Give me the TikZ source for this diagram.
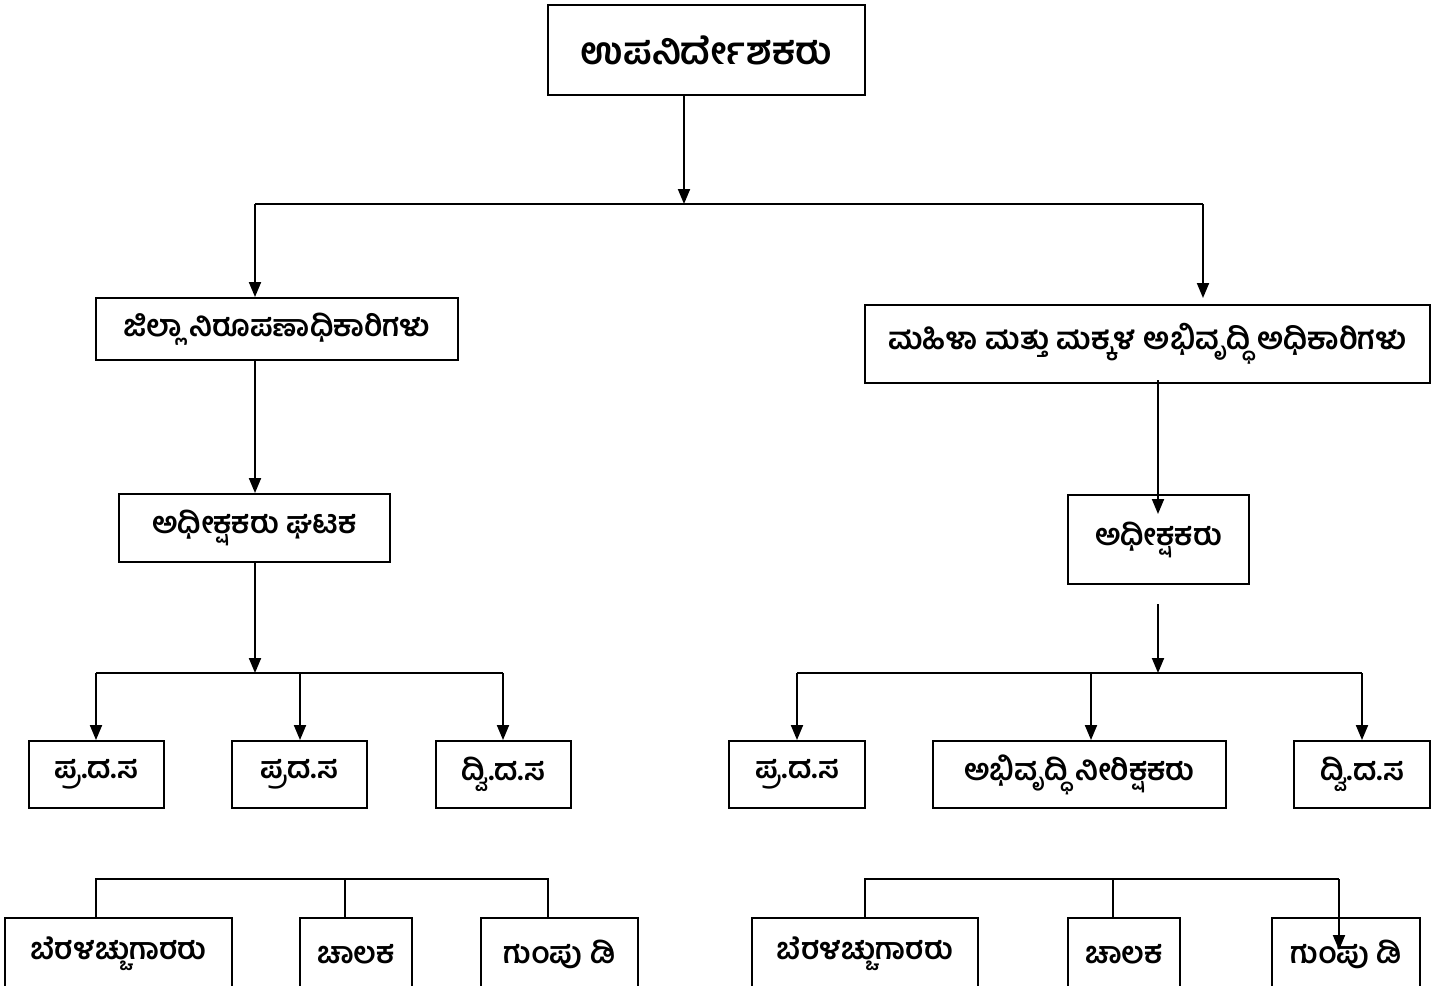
\documentclass[tikz,border=0pt]{standalone}
\usepackage{fontspec}
\newfontfamily\kn[Script=Kannada]{Hind Mysuru}
\usetikzlibrary{arrows.meta}
\tikzset{
  box/.style={draw, line width=1.1pt, inner sep=0pt, align=center, font=\kn\bfseries\fontsize{17}{20}\selectfont},
  bigbox/.style={box, font=\kn\bfseries\fontsize{21.5}{25}\selectfont},
  conn/.style={line width=1.1pt},
  arr/.style={conn, -{Triangle[length=0.3cm, width=0.24cm]}}
}
\begin{document}
\begin{tikzpicture}[x=0.02cm, y=-0.02cm]
\path[use as bounding box] (0,0) rectangle (1455,985);
\clip (0,0) rectangle (1455,985);
% boxes
\node[bigbox, minimum width=6.34cm, minimum height=1.8cm] (top) at (706.5,50) {ಉಪನಿರ್ದೇಶಕರು};
\node[box, minimum width=7.24cm, minimum height=1.24cm] (dist) at (277,329) {ಜಿಲ್ಲಾ ನಿರೂಪಣಾಧಿಕಾರಿಗಳು};
\node[box, minimum width=11.3cm, minimum height=1.56cm, font=\kn\bfseries\fontsize{17.4}{20}\selectfont] (wcd) at (1147.5,344) {ಮಹಿಳಾ ಮತ್ತು ಮಕ್ಕಳ ಅಭಿವೃದ್ಧಿ ಅಧಿಕಾರಿಗಳು};
\node[box, minimum width=5.42cm, minimum height=1.36cm] (supL) at (254.5,528) {ಅಧೀಕ್ಷಕರು ಘಟಕ};
\node[box, minimum width=3.62cm, minimum height=1.78cm] (supR) at (1158.5,539.5) {ಅಧೀಕ್ಷಕರು};
% row 4
\node[box, minimum width=2.7cm, minimum height=1.34cm] (a1) at (96.5,774.5) {ಪ್ರ.ದ.ಸ};
\node[box, minimum width=2.7cm, minimum height=1.34cm] (a2) at (299.5,774.5) {ಪ್ರದ.ಸ};
\node[box, minimum width=2.7cm, minimum height=1.34cm] (a3) at (503.5,774.5) {ದ್ವಿ.ದ.ಸ};
\node[box, minimum width=2.72cm, minimum height=1.34cm] (b1) at (797,774.5) {ಪ್ರ.ದ.ಸ};
\node[box, minimum width=5.86cm, minimum height=1.34cm] (b2) at (1079.5,774.5) {ಅಭಿವೃದ್ಧಿ ನೀರಿಕ್ಷಕರು};
\node[box, minimum width=2.72cm, minimum height=1.34cm] (b3) at (1362,774.5) {ದ್ವಿ.ದ.ಸ};
% row 5
\node[box, minimum width=4.54cm, minimum height=1.44cm] (c1) at (118.5,954) {ಬೆರಳಚ್ಚುಗಾರರು};
\node[box, minimum width=2.24cm, minimum height=1.44cm] (c2) at (356,954) {ಚಾಲಕ};
\node[box, minimum width=3.14cm, minimum height=1.44cm] (c3) at (559.5,954) {ಗುಂಪು ಡಿ};
\node[box, minimum width=4.52cm, minimum height=1.44cm] (d1) at (865,954) {ಬೆರಳಚ್ಚುಗಾರರು};
\node[box, minimum width=2.24cm, minimum height=1.44cm] (d2) at (1124,954) {ಚಾಲಕ};
\node[box, minimum width=2.96cm, minimum height=1.44cm] (d3) at (1346,954) {ಗುಂಪು ಡಿ};
% junction coordinates
\coordinate (tj) at (684,204);
\coordinate (tl) at (255,204);
\coordinate (tr) at (1203,204);
\coordinate (tre) at (1203,298);
\coordinate (ws) at (1158,380);
\coordinate (we) at (1158,514);
\coordinate (lj) at (255,673);
\coordinate (la) at (96,673);
\coordinate (lb) at (300,673);
\coordinate (lc) at (503,673);
\coordinate (rs) at (1158,604);
\coordinate (rj) at (1158,673);
\coordinate (ra) at (797,673);
\coordinate (rb) at (1091,673);
\coordinate (rc) at (1362,673);
\coordinate (h5a) at (96,879);
\coordinate (h5b) at (345,879);
\coordinate (h5c) at (548,879);
\coordinate (k5a) at (865,879);
\coordinate (k5b) at (1113,879);
\coordinate (k5c) at (1339,879);
\coordinate (k5e) at (1339,950);
% connectors
\draw[arr] (top.south -| tj) -- (tj);
\draw[conn] (tl) -- (tr);
\draw[arr] (tl) -- (tl |- dist.north);
\draw[arr] (tr) -- (tre);
\draw[arr] (dist.south -| tl) -- (supL.north -| tl);
\draw[arr] (ws) -- (we);
\draw[arr] (supL.south -| lj) -- (lj);
\draw[conn] (la) -- (lc);
\draw[arr] (la) -- (la |- a1.north);
\draw[arr] (lb) -- (lb |- a2.north);
\draw[arr] (lc) -- (lc |- a3.north);
\draw[arr] (rs) -- (rj);
\draw[conn] (ra) -- (rc);
\draw[arr] (ra) -- (ra |- b1.north);
\draw[arr] (rb) -- (rb |- b2.north);
\draw[arr] (rc) -- (rc |- b3.north);
\draw[conn] (h5a |- c1.north) -- (h5a) -- (h5c) -- (h5c |- c3.north);
\draw[conn] (h5b) -- (h5b |- c2.north);
\draw[conn] (k5a |- d1.north) -- (k5a) -- (k5c);
\draw[conn] (k5b) -- (k5b |- d2.north);
\draw[arr] (k5c) -- (k5e);
\end{tikzpicture}
\end{document}
